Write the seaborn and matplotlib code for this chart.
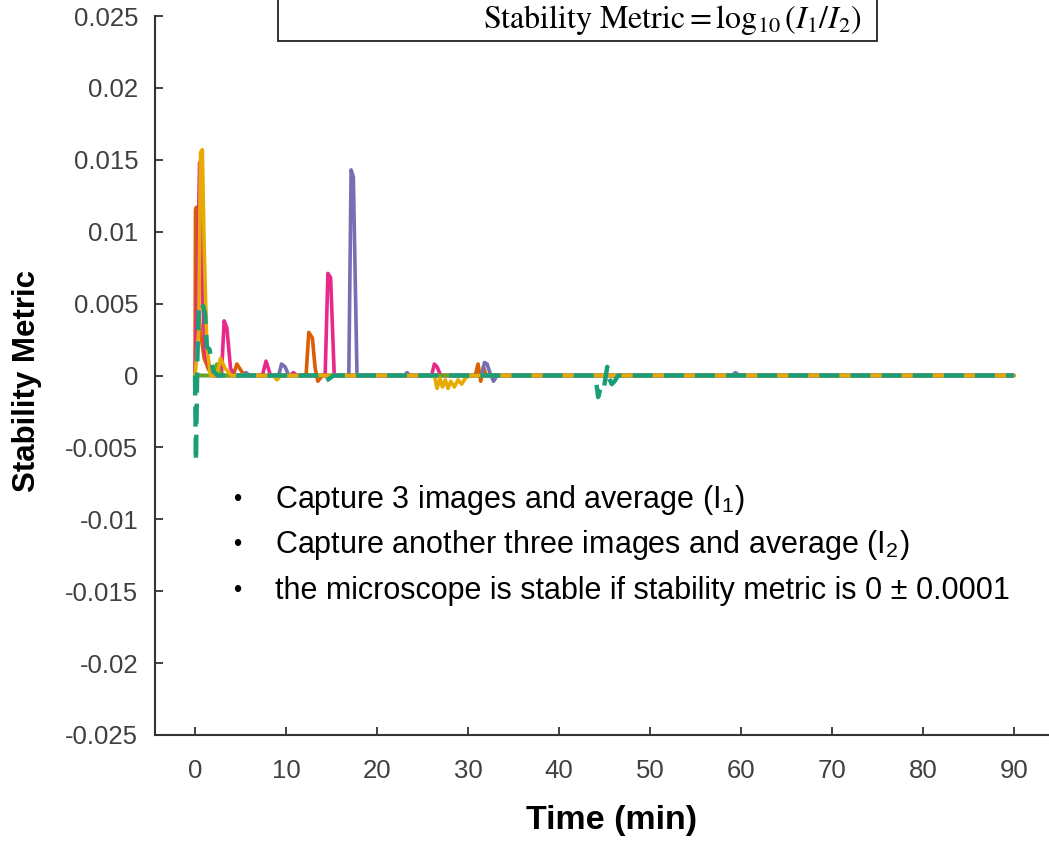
import matplotlib
matplotlib.use("Agg")
import matplotlib.pyplot as plt
import seaborn as sns
import pandas as pd
from matplotlib.patches import Rectangle

sns.set_theme(style="ticks")
plt.rcParams['font.family'] = ['Liberation Sans', 'DejaVu Sans']
plt.rcParams['mathtext.fontset'] = 'stix'

# ---- data ----
orange_t = [0, 0.05, 0.15, 0.35, 0.6, 1.0, 1.5, 2.0, 4.2, 4.6, 5.2, 6.0, 12.2, 12.5, 12.9, 13.2, 13.5, 14.0,
            30.8, 31.1, 31.4, 31.7, 32.0, 90]
orange_v = [0, 0.0115, 0.0117, 0.005, 0.003, 0.0012, 0.0004, 0, 0, 0.0008, 0.0002, 0, 0, 0.003, 0.0026, 0.0005,
            -0.0004, 0, 0, 0.0008, -0.0004, 0.0006, 0, 0]

purple_t = [0, 5.3, 5.6, 6.0, 9.2, 9.5, 9.9, 10.3, 16.9, 17.15, 17.4, 17.8, 23.0, 23.3, 23.6,
            31.5, 31.8, 32.1, 32.4, 32.8, 33.2, 59.0, 59.4, 59.8, 90]
purple_v = [0, 0, 0.0002, 0, 0, 0.0008, 0.0006, 0, 0, 0.0143, 0.0138, 0, 0, 0.0002, 0,
            0, 0.0009, 0.0008, 0.0002, -0.0004, 0, 0, 0.0002, 0, 0]

pink_t = [0, 0.3, 0.5, 0.8, 1.1, 1.6, 2.0, 2.9, 3.2, 3.5, 3.9, 4.3, 7.4, 7.8, 8.3, 10.5, 10.8, 11.2,
          14.3, 14.6, 14.9, 15.3, 26.0, 26.3, 26.6, 27.0, 90]
pink_v = [0, 0.008, 0.0148, 0.006, 0.0015, 0.0005, 0, 0, 0.0038, 0.0033, 0.0005, 0, 0, 0.001, 0, 0, 0.0002, 0,
          0, 0.0071, 0.0068, 0, 0, 0.0008, 0.0006, 0, 0]

lgreen_t = [0, 1.9, 2.4, 2.8, 3.2, 90]
lgreen_v = [0, 0, 0.0008, 0.0002, 0, 0]

yellow_t = [0, 0.4, 0.6, 0.8, 1.0, 1.3, 1.7, 2.4, 2.8, 3.3, 4.0, 8.6, 9.0, 9.4,
            26.3, 26.6, 26.9, 27.2, 27.5, 27.8, 28.1, 28.5, 28.9, 29.3, 29.7, 30.2, 90]
yellow_v = [0, 0.003, 0.0155, 0.0157, 0.009, 0.002, 0, 0, 0.0012, 0.0005, 0, 0, -0.0003, 0,
            0, -0.0009, -0.0002, -0.0008, -0.0003, -0.0009, -0.0004, -0.0008, -0.0003, -0.0006, -0.0002, 0, 0]

teal_t = [0, 0.1, 0.25, 0.4, 0.6, 0.9, 1.1, 1.3, 1.6, 2.0, 2.5, 13.8, 14.3, 14.8, 15.2,
          44.0, 44.3, 44.6, 44.9, 45.3, 45.5, 45.8, 46.1, 46.5, 90]
teal_v = [0, -0.006, 0.001, 0.0045, 0.0051, 0.0048, 0.0043, 0.002, 0.0018, 0.0003, 0, 0, -0.0004, -0.0002, 0,
          0, -0.0015, -0.0008, -0.001, 0.0006, -0.0002, -0.0006, -0.0004, 0, 0]

x_ticks = [0, 10, 20, 30, 40, 50, 60, 70, 80, 90]
y_ticks = [-0.025, -0.02, -0.015, -0.01, -0.005, 0, 0.005, 0.01, 0.015, 0.02, 0.025]
y_labels = ['-0.025', '-0.02', '-0.015', '-0.01', '-0.005', '0', '0.005', '0.01', '0.015', '0.02', '0.025']

bullets = ["Capture 3 images and average (I$_\\mathregular{1}$)",
           "Capture another three images and average (I$_\\mathregular{2}$)",
           "the microscope is stable if stability metric is 0 \u00b1 0.0001"]

series = [
    (orange_t, orange_v, '#D95F02'),
    (purple_t, purple_v, '#7570B3'),
    (pink_t, pink_v, '#E7298A'),
    (lgreen_t, lgreen_v, '#66A61E'),
    (yellow_t, yellow_v, '#E6AB02'),
]

fig = plt.figure(figsize=(10.49, 8.43), dpi=100)
ax = fig.add_axes([155/1049, 1-735/843, 1-155/1049, (735-16)/843])

for t, v, c in series:
    sns.lineplot(x=t, y=v, color=c, lw=2.6, estimator=None, sort=False, ax=ax)
sns.lineplot(x=teal_t, y=teal_v, color='#1B9E77', lw=3.2, estimator=None, sort=False, ax=ax,
             linestyle=(0, (4.5, 2.5)))

ax.set_xlim(-4.4, 93.85)
ax.set_ylim(-0.025, 0.025)
ax.set_xticks(x_ticks)
ax.set_xticklabels([str(x) for x in x_ticks])
ax.set_yticks(y_ticks)
ax.set_yticklabels(y_labels)
ax.tick_params(direction='in', length=6, width=1.3, color='#333333', labelsize=18.5,
               labelcolor='#404040')
ax.tick_params(axis='y', pad=12)
ax.tick_params(axis='x', pad=17)
for s in ['top', 'right']:
    ax.spines[s].set_visible(False)
for s in ['left', 'bottom']:
    ax.spines[s].set_color('#333333')
    ax.spines[s].set_linewidth(1.5)

fig.text(612/1049, 1-821/843, "Time (min)", fontsize=24.5, fontweight='bold', ha='center', va='center',
         color='black')
fig.text(27/1049, 1-381/843, "Stability Metric", fontsize=22.5, fontweight='bold', ha='center', va='center',
         rotation=90, color='black')

for i, line in enumerate(bullets):
    yy = 1 - (500 + 45.5*i)/843
    fig.text(237/1049, yy, "\u2022", fontsize=17, ha='center', va='center', color='black')
    fig.text(275/1049, yy, line, fontsize=22, ha='left', va='center', color='black')

box = Rectangle((278/1049, 1-41/843), (877-278)/1049, 0.2, transform=fig.transFigure,
                facecolor='white', edgecolor='#222222', lw=1.3)
fig.add_artist(box)
fig.text(862/1049, 1-20/843,
         r"$\mathrm{Stability\ Metric} = \log_{10}\left(I_1 / I_2\right)$",
         fontsize=23, ha='right', va='center', color='black')

fig.savefig("out.png", dpi=100)
